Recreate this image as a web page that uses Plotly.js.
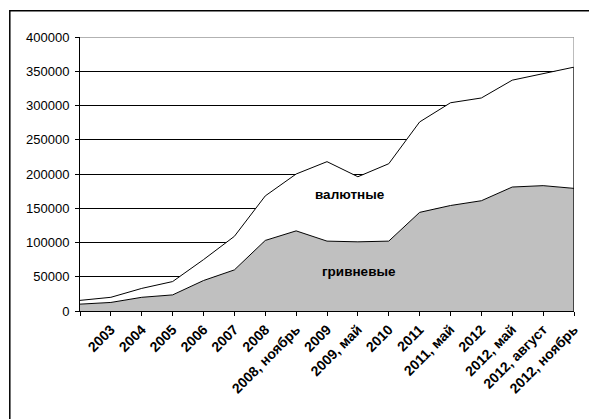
<!DOCTYPE html>
<html>
<head>
<meta charset="utf-8">
<script src="https://cdn.plot.ly/plotly-3.0.1.min.js"></script>
<style>
  html, body { margin: 0; padding: 0; background: #fff; }
  #chart { width: 589px; height: 419px; }
</style>
</head>
<body>
<div id="chart"></div>
<script>
// Category labels (first point has no label)
const labels = ["", "2003", "2004", "2005", "2006", "2007", "2008", "2008, ноябрь",
  "2009", "2009, май", "2010", "2011", "2011, май", "2012", "2012, май",
  "2012, август", "2012, ноябрь"];
// Hryvnia deposits (bottom series)
const hryvnia = [10000, 12500, 20000, 23500, 44500, 60000, 103000, 117000,
  102000, 101000, 102000, 144000, 154000, 161000, 181000, 183000, 179000];
// Foreign-currency deposits (stacked on top)
const currency = [5500, 7500, 13000, 19500, 30500, 49000, 65000, 83000,
  116000, 95000, 113000, 132000, 150000, 150000, 156000, 163000, 177000];
const yTicks = [0, 50000, 100000, 150000, 200000, 250000, 300000, 350000, 400000];
const seriesNames = ["гривневые", "валютные"];

const idx = labels.map((_, i) => i);
const lastI = idx.length - 1;
const lastTotal = hryvnia[lastI] + currency[lastI];

const FONT = "Arial, 'Liberation Sans', sans-serif";

const traces = [
  {
    x: idx, y: hryvnia, name: seriesNames[0], type: "scatter", mode: "lines",
    stackgroup: "one", line: { color: "#000", width: 1 }, fillcolor: "#c0c0c0",
    hoverinfo: "skip"
  },
  {
    x: idx, y: currency, name: seriesNames[1], type: "scatter", mode: "lines",
    stackgroup: "one", line: { color: "#000", width: 1 }, fillcolor: "#ffffff",
    hoverinfo: "skip"
  }
];

const layout = {
  width: 589, height: 419,
  margin: { l: 79.7, r: 15.3, t: 37.3, b: 108.3, pad: 0 },
  paper_bgcolor: "#fff", plot_bgcolor: "#fff",
  showlegend: false,
  font: { family: FONT, color: "#000", size: 12 },
  xaxis: {
    type: "linear", range: [0, lastI], tickmode: "array",
    tickvals: idx, ticktext: labels, tickangle: -45,
    tickfont: { family: FONT, size: 14, weight: "bold", color: "#000" },
    ticks: "outside", ticklen: 4, tickcolor: "#000", tickwidth: 1,
    showline: true, linecolor: "#000", linewidth: 1,
    showgrid: false, zeroline: false, fixedrange: true
  },
  yaxis: {
    range: [0, 400000], tickmode: "array", tickvals: yTicks,
    ticktext: yTicks.map(String),
    tickfont: { family: FONT, size: 13, color: "#000" },
    ticks: "outside", ticklen: 4, tickcolor: "#000", tickwidth: 1,
    ticklabelstandoff: 3,
    showline: true, linecolor: "#000", linewidth: 1,
    showgrid: true, gridcolor: "#000", gridwidth: 1,
    zeroline: false, fixedrange: true
  },
  annotations: [
    { x: 8.74, y: 170700, xref: "x", yref: "y", text: "<b>" + seriesNames[1] + "</b>",
      showarrow: false, font: { family: FONT, size: 13.5, color: "#000" } },
    { x: 9.05, y: 58100, xref: "x", yref: "y", text: "<b>" + seriesNames[0] + "</b>",
      showarrow: false, font: { family: FONT, size: 13.5, color: "#000" } }
  ],
  shapes: [
    // plot area border (gray top and right)
    { type: "line", xref: "x", yref: "y", x0: 0, x1: lastI, y0: 400000, y1: 400000,
      line: { color: "#999", width: 1.3 }, layer: "above" },
    { type: "line", xref: "x", yref: "y", x0: lastI, x1: lastI, y0: lastTotal, y1: 400000,
      line: { color: "#999", width: 1.3 }, layer: "above" },
    { type: "line", xref: "x", yref: "y", x0: lastI, x1: lastI, y0: 0, y1: lastTotal,
      line: { color: "#000", width: 1.3 }, layer: "above" },
    // outer chart border (extends past right and bottom edges)
    { type: "rect", xref: "paper", yref: "paper",
      x0: (9.5 - 79.7) / 494, x1: (600 - 79.7) / 494,
      y0: (310.7 - 430) / 273.4, y1: (310.7 - 11) / 273.4,
      line: { color: "#000", width: 1.5 }, fillcolor: "rgba(0,0,0,0)", layer: "above" }
  ]
};

Plotly.newPlot("chart", traces, layout, { displayModeBar: false, staticPlot: true });
</script>
</body>
</html>
